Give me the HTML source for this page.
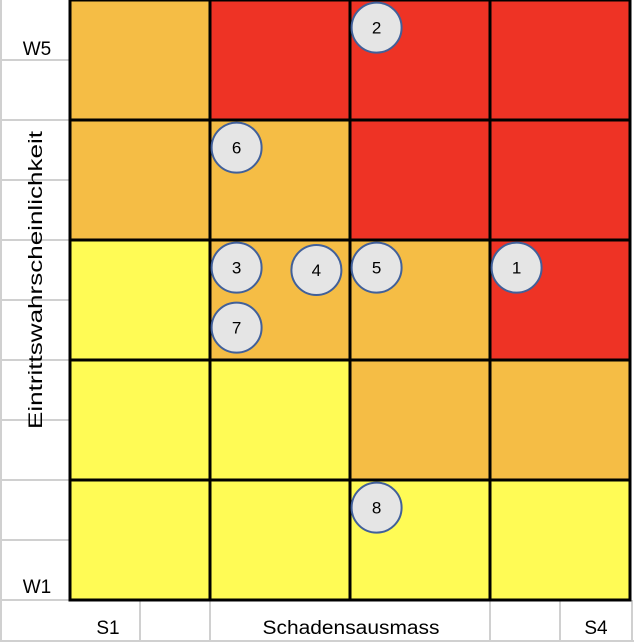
<!DOCTYPE html>
<html><head><meta charset="utf-8"><style>
html,body{margin:0;padding:0;background:#fff;}
svg{display:block;font-family:"Liberation Sans",sans-serif;}
</style></head><body>
<svg id="chart" width="634" height="642"></svg>
<script>
const rowsLabels=["W5","W4","W3","W2","W1"];
const colLabels=["S1","S2","S3","S4"];
const levels=[["O","R","R","R"],["O","O","R","R"],["Y","O","O","R"],["Y","Y","O","O"],["Y","Y","Y","Y"]];
const pointIds=["1","2","3","4","5","6","7","8"];
const pointS=[3.19,2.19,1.19,1.76,2.19,1.19,1.19,2.19];
const pointW=[2.23,0.23,2.23,2.25,2.23,1.23,2.73,4.23];
const colors={O:"#F5BD45",R:"#EE3325",Y:"#FFFB55"};
const NS="http://www.w3.org/2000/svg";
const svg=document.getElementById('chart');
const x0=70,y0=0,cw=140,ch=120;
const sx=v=>x0+v*cw, sy=v=>y0+v*ch;
function mk(t,a){const e=document.createElementNS(NS,t);for(const k in a)e.setAttribute(k,a[k]);svg.appendChild(e);return e;}
for(let y=60;y<=600;y+=60){const l=mk('line',{x1:0,y1:y,x2:70,y2:y,stroke:"#d0d0d0","stroke-width":2});

}
[0,140,210,490,560,632].forEach(x=>{const l=mk('line',{x1:x,y1:600,x2:x,y2:642,stroke:"#d0d0d0","stroke-width":2});

});
mk('line',{x1:0,y1:641,x2:634,y2:641,stroke:"#d0d0d0","stroke-width":2});
mk('line',{x1:1,y1:0,x2:1,y2:642,stroke:"#d0d0d0","stroke-width":2});
levels.forEach((row,r)=>row.forEach((lv,c)=>{
 const e=mk('rect',{x:sx(c),y:sy(r),width:cw,height:ch,fill:colors[lv],stroke:"#000","stroke-width":3});
 
 
}));
function txt(x,y,s,name,extra){const e=mk('text',Object.assign({x:x,y:y,"font-size":19,fill:"#000","text-anchor":"middle"},extra||{}));e.textContent=s;

return e;}
txt(37,55,"W5","y-label-w5");
txt(37,593,"W1","y-label-w1");
txt(108,634,"S1","x-label-s1");
txt(596,634,"S4","x-label-s4");
txt(351,634,"Schadensausmass","x-axis-title",{textLength:177,lengthAdjust:"spacingAndGlyphs"});
txt(0,0,"Eintrittswahrscheinlichkeit","y-axis-title",{transform:"translate(42,280) rotate(-90)",textLength:298,lengthAdjust:"spacingAndGlyphs"});
pointIds.forEach((id,i)=>{
 const cx=sx(pointS[i]),cy=sy(pointW[i]);
 const c=mk('circle',{cx:cx,cy:cy,r:25,fill:"#E5E5E5",stroke:"#41609A","stroke-width":2});
 
 
 txt(cx,cy+6,id,'risk-point-label-'+id,{"font-size":17});
});
</script>
</body></html>
